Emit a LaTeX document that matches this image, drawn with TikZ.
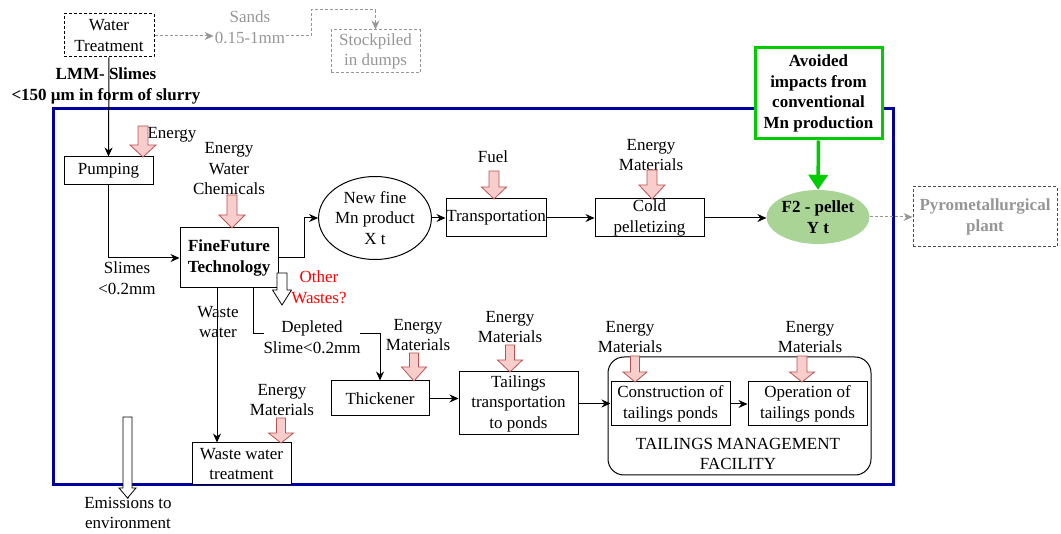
\documentclass[tikz,border=0pt]{standalone}
\usepackage{fontspec}
\setmainfont{Liberation Serif}
\usetikzlibrary{arrows.meta,shapes.geometric,calc}
\definecolor{pinkfill}{HTML}{F8CECC}
\definecolor{pinkline}{HTML}{B85450}
\definecolor{bluebox}{RGB}{0,0,160}
\definecolor{greenbox}{RGB}{0,204,0}
\definecolor{pelletfill}{RGB}{170,212,150}
\definecolor{greytxt}{RGB}{150,150,150}
\newcommand\blockarr[7]{\draw[#1] ({#2-#5},#3) -- ({#2+#5},#3) -- ({#2+#5},{#4-#7}) -- ({#2+#6},{#4-#7}) -- (#2,#4) -- ({#2-#6},{#4-#7}) -- ({#2-#5},{#4-#7}) -- cycle;}
\begin{document}
\begin{tikzpicture}[x=1pt,y=-1pt,
  every node/.style={font=\fontsize{17}{20.5}\selectfont, align=center, inner sep=1pt},
  box/.style={draw, line width=1pt, fill=white, inner sep=0pt},
  dbox/.style={draw, line width=1pt, dash pattern=on 3pt off 2pt, inner sep=0pt},
  conn/.style={line width=1pt, -{Stealth[length=9pt,width=8pt]}},
  gconn/.style={line width=1pt, greytxt, dash pattern=on 3pt off 2pt, -{Stealth[length=9pt,width=8pt]}},
  pinkarr/.style={fill=pinkfill, draw=pinkline, line width=0.8pt},
  whitearr/.style={fill=white, draw=black, line width=0.8pt}]
\useasboundingbox (0,0) rectangle (1061,534);
% system boundary
\draw[bluebox, line width=3pt] (53,109) rectangle (893,485);

% top part
\node[dbox, minimum width=90pt, minimum height=43pt] (wt) at (109,35.5) {Water\\Treatment};
\node[text=greytxt] (sands) at (250,27) {Sands\\0.15-1mm};
\node[dbox, draw=greytxt, text=greytxt, minimum width=89pt, minimum height=43pt] (stock) at (375.5,51.5) {Stockpiled\\in dumps};
\draw[gconn] (wt.east |- 0,36) -- (sands.west |- 0,36);
\coordinate (s1) at (311,10);
\draw[gconn] (sands.east |- 0,36) -| (s1) -| (stock.north);

\node[box, minimum width=89pt, minimum height=28pt] (pump) at (108.5,171) {Pumping};
\draw[conn] (wt.south) -- (pump.north);
\node[font=\fontsize{17}{20.5}\selectfont\bfseries] (lmm) at (106,86) {LMM- Slimes\\<150 µm in form of slurry};

\node[box, minimum width=98pt, minimum height=60pt, font=\fontsize{17}{20.5}\selectfont\bfseries] (ff) at (229,258) {FineFuture\\Technology};
\draw[conn] (pump.south) |- (ff.west);
\node (slimes) at (127,278) {Slimes\\<0.2mm};

\node[draw, ellipse, line width=1pt, minimum width=89pt, minimum height=83pt, inner sep=0pt] (newmn) at (375,218) {New fine\\Mn product\\X t};
\coordinate (k1) at (304,258);
\draw[conn] (ff.east) -- (k1) |- (newmn.west);

\node[box, minimum width=100pt, minimum height=38pt] (trans) at (496,218) {Transportation};
\draw[conn] (newmn.east) -- (trans.west);
\node[box, minimum width=109pt, minimum height=38pt] (cold) at (649.5,218) {Cold\\pelletizing};
\draw[conn] (trans.east) -- (cold.west);

\node[ellipse, fill=pelletfill, minimum width=90pt, minimum height=54pt, inner sep=0pt, font=\fontsize{17}{20.5}\selectfont\bfseries] (f2) at (818,217) {F2 - pellet\\Y t};
\draw[conn] (cold.east) -- (cold.east -| f2.west);

\node[draw=greenbox, line width=3pt, fill=white, minimum width=127pt, minimum height=91pt, inner sep=0pt, font=\fontsize{17}{20.5}\selectfont\bfseries] (avoid) at (818.5,93.5) {Avoided\\impacts from\\conventional\\Mn production};
\draw[greenbox, line width=3.5pt, -{Triangle[length=15pt,width=19pt]}] (avoid.south) -- (f2.north);

\node[dbox, draw=black!70, text=greytxt, minimum width=144pt, minimum height=60pt, font=\fontsize{17}{20.5}\selectfont\bfseries] (pyro) at (985,217) {Pyrometallurgical\\plant};
\draw[gconn] (f2.east) -- (pyro.west);

% lower part
\node[box, minimum width=99pt, minimum height=42pt] (wwt) at (241.5,464) {Waste water\\treatment};
\node[box, minimum width=98pt, minimum height=35pt] (thick) at (380,398.5) {Thickener};
\node[box, minimum width=119pt, minimum height=63pt] (tail) at (518.5,403.5) {Tailings\\transportation\\to ponds};
\node[draw, line width=1pt, rounded corners=16pt, minimum width=263pt, minimum height=118pt] (tmf) at (739.5,416) {};
\node (tmftxt) at (738,454) {TAILINGS MANAGEMENT\\FACILITY};
\node[box, minimum width=119pt, minimum height=44pt] (cons) at (670.5,404) {Construction of\\tailings ponds};
\node[box, minimum width=119pt, minimum height=44pt] (oper) at (807.5,404) {Operation of\\tailings ponds};

\draw[conn] (217,0 |- ff.south) -- (217,0 |- wwt.north);
\node (ww) at (218,322) {Waste\\water};
\coordinate (d1) at (253,334);
\draw[conn] (253,0 |- ff.south) -- (d1) -| (thick.north);
\node[fill=white, inner sep=0pt] (depl) at (312,337) {Depleted\\Slime<0.2mm};

\draw[conn] (thick.east) -- (thick.east -| tail.west);
\draw[conn] (tail.east) -- (tail.east -| cons.west);
\draw[conn] (cons.east) -- (oper.west);

% input labels
\node (e1) at (172,135) {Energy};
\node (e2) at (229,169) {Energy\\Water\\Chemicals};
\node (fuel) at (493,157) {Fuel};
\node (e3) at (651,155) {Energy\\Materials};
\node (e4) at (282,400) {Energy\\Materials};
\node (e5) at (418,335) {Energy\\Materials};
\node (e6) at (510,327) {Energy\\Materials};
\node (e7) at (630,337) {Energy\\Materials};
\node (e8) at (810,337) {Energy\\Materials};
\node[text=red] (ow) at (319,287) {Other\\Wastes?};
\node (emis) at (128,513) {Emissions to\\environment};

% block arrows
\blockarr{pinkarr}{143}{126}{157}{5}{13}{12}
\blockarr{pinkarr}{232}{195}{228}{5}{13}{13}
\blockarr{pinkarr}{494}{171}{199}{5}{12.5}{12}
\blockarr{pinkarr}{652}{170}{199}{5}{13}{14}
\blockarr{pinkarr}{281}{418}{443}{4.5}{12.5}{10}
\blockarr{pinkarr}{414}{353}{381}{4.5}{12.5}{14}
\blockarr{pinkarr}{510}{345}{372}{4.5}{12.5}{12}
\blockarr{pinkarr}{635}{356}{382}{4.5}{12}{10}
\blockarr{pinkarr}{802}{356}{382}{5}{12.5}{10}
\blockarr{whitearr}{282}{273}{305}{5}{9.5}{15}
\blockarr{whitearr}{127.5}{417}{498}{4.5}{8.5}{10}
\end{tikzpicture}
\end{document}
